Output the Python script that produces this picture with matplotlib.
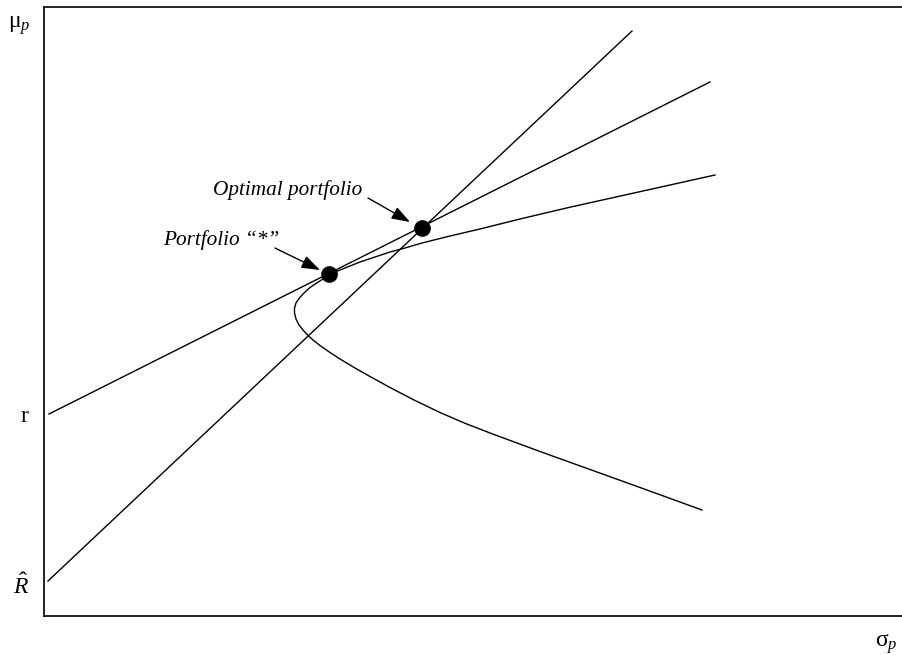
import matplotlib.pyplot as plt

plt.rcParams['font.family'] = ['Liberation Serif', 'DejaVu Serif']
plt.rcParams['mathtext.fontset'] = 'custom'
plt.rcParams['mathtext.rm'] = 'Liberation Serif'
plt.rcParams['mathtext.it'] = 'Liberation Serif:italic'

# frontier (sigma_p, mu_p), upper end -> vertex -> lower end
frontier_sigma = [671, 599, 526, 476, 436, 406, 378, 361, 346, 331, 316, 301,
                  285, 279, 272, 266, 260, 255, 252, 250.5, 250.5, 252, 255,
                  259, 263, 269, 276, 286, 296, 311, 326, 346, 371, 396, 421,
                  446, 496, 546, 596, 658]
frontier_mu = [441, 425, 408.8, 397, 387, 380, 373, 368, 364, 359, 354, 348,
               341.5, 337, 332.5, 328.5, 323, 317.5, 313, 308, 303, 297, 291,
               286, 281.5, 276, 270.5, 263.5, 257, 248, 239.5, 228.5, 215.5,
               203.5, 192.7, 183, 164.5, 146.5, 128.5, 106]

# line from r (tangent at portfolio "*")
r_line_sigma = [5, 666]
r_line_mu = [202, 534]
# line from R-hat (through the optimal portfolio)
rhat_line_sigma = [4, 588]
rhat_line_mu = [35, 585]

# marked portfolios
star_pt = (285, 342)
opt_pt = (378, 388)

# axis label levels
r_level = 202
rhat_level = 32

fig = plt.figure(figsize=(9.02, 6.55), dpi=100)
ax = fig.add_axes([44 / 902, 39 / 655, 1.0, 609 / 655])
ax.set_xlim(0, 902)
ax.set_ylim(0, 609)

lw = 1.0
ax.plot(frontier_sigma, frontier_mu, color='black', lw=lw)
ax.plot(r_line_sigma, r_line_mu, color='black', lw=lw)
ax.plot(rhat_line_sigma, rhat_line_mu, color='black', lw=lw)

ax.plot(*star_pt, 'o', color='black', ms=11)
ax.plot(*opt_pt, 'o', color='black', ms=11)

# arrows and labels
arrow = dict(arrowstyle='-|>,head_length=0.8,head_width=0.28', color='black',
             lw=1.0, shrinkA=0, shrinkB=0, mutation_scale=14)
ax.annotate('', xy=(366, 394), xytext=(324, 418), arrowprops=arrow)
ax.text(169, 426, 'Optimal portfolio', fontsize=15.3, style='italic',
        ha='left', va='center')
ax.annotate('', xy=(276, 346), xytext=(231, 368), arrowprops=arrow)
ax.text(119, 376, 'Portfolio \u201c*\u201d', fontsize=15.3, style='italic',
        ha='left', va='center')

ax.spines['right'].set_visible(False)
for s in ['left', 'top', 'bottom']:
    ax.spines[s].set_linewidth(1.2)

ax.set_xticks([])
ax.set_yticks([r_level, rhat_level])
ax.set_yticklabels(['r', r'$\hat{R}$'], fontsize=17)
ax.tick_params(axis='y', length=0, pad=11)

fig.text(8 / 902, 1 - 26 / 655, '$\\mathrm{\u03bc}_p$', fontsize=17,
         ha='left', va='center')
fig.text(875 / 902, 1 - 644 / 655, '$\\mathrm{\u03c3}_p$', fontsize=17,
         ha='left', va='center')

fig.savefig('out.png', dpi=100)
